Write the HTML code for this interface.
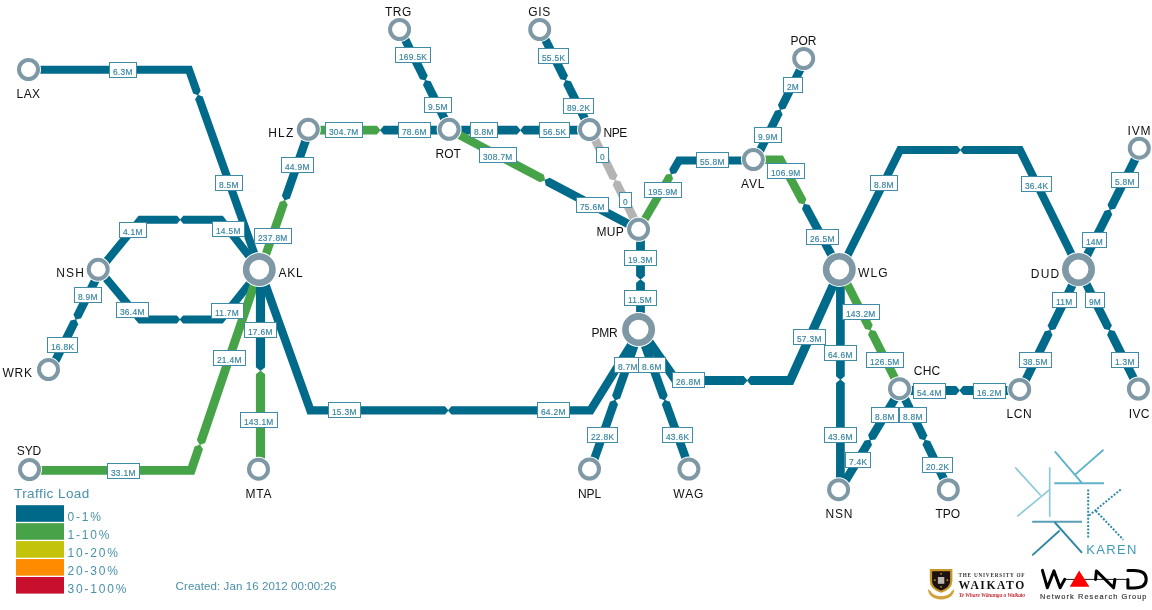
<!DOCTYPE html><html><head><meta charset="utf-8"><style>html,body{margin:0;padding:0;background:#fff;}svg{display:block}.bl{font-family:"Liberation Sans",sans-serif;font-size:8.4px;fill:#35849f;stroke:#35849f;stroke-width:0.15px;letter-spacing:0.3px}.nl{font-family:"Liberation Sans",sans-serif;font-size:12px;fill:#111;letter-spacing:1.2px}</style></head><body>
<svg width="1152" height="610" viewBox="0 0 1152 610" style="will-change:transform">
<rect width="1152" height="610" fill="#fff"/>
<polygon fill="#006a8a" points="29.50,73.80 186.18,73.80 193.15,93.41 198.04,95.24 200.69,90.73 191.82,65.80 29.50,65.80"/>
<polygon fill="#006a8a" points="264.07,269.06 202.73,96.50 197.84,94.67 195.20,99.18 256.53,271.74"/>
<polygon fill="#47a348" points="308.30,134.60 376.91,134.60 380.61,130.20 376.91,125.80 308.30,125.80"/>
<polygon fill="#006a8a" points="449.10,125.80 383.70,125.80 380.01,130.20 383.70,134.60 449.10,134.60"/>
<polygon fill="#006a8a" points="305.29,128.70 281.87,195.76 284.70,200.53 289.89,198.56 313.31,131.50"/>
<polygon fill="#47a348" points="264.31,271.80 287.73,204.74 284.90,199.97 279.71,201.94 256.29,269.00"/>
<polygon fill="#006a8a" points="396.79,32.19 420.09,79.16 425.48,80.47 427.70,75.38 404.41,28.41"/>
<polygon fill="#006a8a" points="453.91,128.21 430.61,81.24 425.22,79.93 423.00,85.02 446.29,131.99"/>
<polygon fill="#006a8a" points="536.90,32.19 560.34,79.27 565.73,80.57 567.95,75.48 544.50,28.41"/>
<polygon fill="#006a8a" points="594.30,128.41 570.86,81.33 565.47,80.03 563.25,85.12 586.70,132.19"/>
<polygon fill="#006a8a" points="449.10,134.60 517.00,134.60 520.70,130.20 517.00,125.80 449.10,125.80"/>
<polygon fill="#006a8a" points="589.50,125.80 523.79,125.80 520.10,130.20 523.79,134.60 589.50,134.60"/>
<polygon fill="#47a348" points="448.12,133.86 539.97,182.33 545.12,180.24 543.94,174.82 452.08,126.34"/>
<polygon fill="#006a8a" points="641.58,226.34 549.73,177.87 544.58,179.96 545.76,185.38 637.62,233.86"/>
<polygon fill="#b4b4b4" points="586.69,132.18 609.79,179.14 615.18,180.47 617.42,175.39 594.31,128.42"/>
<polygon fill="#b4b4b4" points="643.41,228.22 620.31,181.26 614.92,179.93 612.68,185.01 635.79,231.98"/>
<polygon fill="#47a348" points="642.46,231.31 673.09,178.63 671.32,173.72 666.17,174.61 635.54,227.29"/>
<polygon fill="#006a8a" points="753.40,156.50 676.70,156.50 669.25,169.32 671.01,174.23 676.16,173.34 681.30,164.50 753.40,164.50"/>
<polygon fill="#006a8a" points="801.58,57.46 777.95,105.10 780.12,110.07 785.38,108.79 809.02,61.14"/>
<polygon fill="#006a8a" points="758.92,162.14 782.55,114.50 780.38,109.53 775.12,110.81 751.48,158.46"/>
<polygon fill="#47a348" points="753.40,164.05 777.86,164.05 798.89,203.22 804.32,204.36 806.38,199.20 782.94,155.55 753.40,155.55"/>
<polygon fill="#006a8a" points="843.04,267.49 809.47,204.96 804.04,203.83 801.98,208.98 835.56,271.51"/>
<polygon fill="#006a8a" points="636.10,229.30 636.10,276.05 640.50,279.75 644.90,276.05 644.90,229.30"/>
<polygon fill="#006a8a" points="644.90,329.60 644.90,282.85 640.50,279.15 636.10,282.85 636.10,329.60"/>
<polygon fill="#006a8a" points="102.29,272.64 142.39,223.80 177.14,223.80 180.50,219.80 177.14,215.80 138.61,215.80 96.11,267.56"/>
<polygon fill="#006a8a" points="263.45,267.94 222.75,215.80 183.26,215.80 179.90,219.80 183.26,223.80 218.85,223.80 257.15,272.86"/>
<polygon fill="#006a8a" points="96.13,272.67 138.63,323.50 176.90,323.50 180.26,319.50 176.90,315.50 142.37,315.50 102.27,267.53"/>
<polygon fill="#006a8a" points="257.18,267.89 218.88,315.50 183.02,315.50 179.66,319.50 183.02,323.50 222.72,323.50 263.42,272.91"/>
<polygon fill="#006a8a" points="96.89,267.41 73.50,314.58 75.72,319.67 81.11,318.36 104.51,271.19"/>
<polygon fill="#006a8a" points="54.81,371.39 78.20,324.22 75.98,319.13 70.59,320.44 47.19,367.61"/>
<polygon fill="#47a348" points="255.13,268.19 196.83,440.10 199.81,445.01 205.16,442.92 263.47,271.01"/>
<polygon fill="#47a348" points="29.50,474.80 194.35,474.80 202.98,449.36 200.00,444.44 194.65,446.53 188.05,466.00 29.50,466.00"/>
<polygon fill="#006a8a" points="255.90,269.60 255.90,367.19 260.50,371.05 265.10,367.19 265.10,269.60"/>
<polygon fill="#47a348" points="265.10,469.50 265.10,374.31 260.50,370.45 255.90,374.31 255.90,469.50"/>
<polygon fill="#006a8a" points="256.05,271.02 307.44,414.60 444.98,414.60 448.51,410.40 444.98,406.20 313.36,406.20 263.95,268.18"/>
<polygon fill="#006a8a" points="636.93,327.39 588.16,406.20 451.44,406.20 447.91,410.40 451.44,414.60 592.84,414.60 644.07,331.81"/>
<polygon fill="#006a8a" points="635.59,328.99 612.13,395.60 614.95,400.38 620.14,398.43 643.61,331.81"/>
<polygon fill="#006a8a" points="594.51,471.21 617.97,404.60 615.15,399.82 609.96,401.77 586.49,468.39"/>
<polygon fill="#006a8a" points="635.60,331.84 659.64,398.47 664.85,400.38 667.64,395.58 643.60,328.96"/>
<polygon fill="#006a8a" points="693.90,468.36 669.86,401.73 664.65,399.82 661.86,404.62 685.90,471.24"/>
<polygon fill="#006a8a" points="636.81,332.17 673.65,385.00 743.69,385.00 747.47,380.50 743.69,376.00 678.35,376.00 644.19,327.03"/>
<polygon fill="#006a8a" points="836.20,267.65 787.29,376.00 750.65,376.00 746.87,380.50 750.65,385.00 793.11,385.00 844.40,271.35"/>
<polygon fill="#006a8a" points="836.05,269.50 836.05,376.25 840.40,379.90 844.75,376.25 844.75,269.50"/>
<polygon fill="#006a8a" points="844.75,489.70 844.75,382.95 840.40,379.30 836.05,382.95 836.05,489.70"/>
<polygon fill="#47a348" points="836.51,272.22 865.13,328.90 870.54,330.17 872.72,325.07 844.09,268.38"/>
<polygon fill="#47a348" points="904.29,387.58 875.67,330.90 870.26,329.63 868.08,334.73 896.71,391.42"/>
<polygon fill="#006a8a" points="844.08,271.29 902.57,154.00 957.33,154.00 960.69,150.00 957.33,146.00 897.63,146.00 836.92,267.71"/>
<polygon fill="#006a8a" points="1083.09,268.53 1022.48,146.00 963.45,146.00 960.09,150.00 963.45,154.00 1017.52,154.00 1075.91,272.07"/>
<polygon fill="#006a8a" points="1083.30,272.20 1112.23,214.48 1110.03,209.38 1104.64,210.67 1075.70,268.40"/>
<polygon fill="#006a8a" points="1136.50,147.10 1107.57,204.82 1109.77,209.92 1115.16,208.63 1144.10,150.90"/>
<polygon fill="#006a8a" points="1075.68,268.43 1047.72,325.44 1049.97,330.52 1055.36,329.19 1083.32,272.17"/>
<polygon fill="#006a8a" points="1024.52,392.07 1052.48,335.06 1050.23,329.98 1044.84,331.31 1016.88,388.33"/>
<polygon fill="#006a8a" points="1075.70,272.20 1104.19,329.03 1109.58,330.32 1111.78,325.22 1083.30,268.40"/>
<polygon fill="#006a8a" points="1143.20,387.90 1114.71,331.07 1109.32,329.78 1107.12,334.88 1135.60,391.70"/>
<polygon fill="#006a8a" points="899.50,394.90 956.12,394.90 959.90,390.40 956.12,385.90 899.50,385.90"/>
<polygon fill="#006a8a" points="1019.70,385.90 963.08,385.90 959.30,390.40 963.08,394.90 1019.70,394.90"/>
<polygon fill="#006a8a" points="896.86,387.31 868.10,435.01 869.90,440.26 875.38,439.39 904.14,391.69"/>
<polygon fill="#006a8a" points="843.24,492.69 872.00,444.99 870.20,439.74 864.72,440.61 835.96,488.31"/>
<polygon fill="#006a8a" points="896.67,391.35 919.65,438.90 925.03,440.27 927.30,435.21 904.33,387.65"/>
<polygon fill="#006a8a" points="953.13,488.65 930.15,441.10 924.77,439.73 922.50,444.79 945.47,492.35"/>
<rect x="109.5" y="62.5" width="27" height="15" fill="#fff" stroke="#3f8ca9" stroke-width="1"/><text x="112.90" y="75.00" class="bl">6.3M</text>
<rect x="215.5" y="175.5" width="27" height="15" fill="#fff" stroke="#3f8ca9" stroke-width="1"/><text x="218.90" y="188.00" class="bl">8.5M</text>
<rect x="325.5" y="122.5" width="37" height="15" fill="#fff" stroke="#3f8ca9" stroke-width="1"/><text x="328.90" y="135.00" class="bl">304.7M</text>
<rect x="398.5" y="122.5" width="32" height="15" fill="#fff" stroke="#3f8ca9" stroke-width="1"/><text x="401.90" y="135.00" class="bl">78.6M</text>
<rect x="281.5" y="157.5" width="32" height="15" fill="#fff" stroke="#3f8ca9" stroke-width="1"/><text x="284.90" y="170.00" class="bl">44.9M</text>
<rect x="254.5" y="228.5" width="37" height="15" fill="#fff" stroke="#3f8ca9" stroke-width="1"/><text x="257.90" y="241.00" class="bl">237.8M</text>
<rect x="395.5" y="47.5" width="35" height="15" fill="#fff" stroke="#3f8ca9" stroke-width="1"/><text x="398.90" y="60.00" class="bl">169.5K</text>
<rect x="424.5" y="97.5" width="27" height="15" fill="#fff" stroke="#3f8ca9" stroke-width="1"/><text x="427.90" y="110.00" class="bl">9.5M</text>
<rect x="538.5" y="48.5" width="30" height="15" fill="#fff" stroke="#3f8ca9" stroke-width="1"/><text x="541.90" y="61.00" class="bl">55.5K</text>
<rect x="563.5" y="98.5" width="30" height="15" fill="#fff" stroke="#3f8ca9" stroke-width="1"/><text x="566.90" y="111.00" class="bl">89.2K</text>
<rect x="470.5" y="122.5" width="27" height="15" fill="#fff" stroke="#3f8ca9" stroke-width="1"/><text x="473.90" y="135.00" class="bl">8.8M</text>
<rect x="539.5" y="122.5" width="30" height="15" fill="#fff" stroke="#3f8ca9" stroke-width="1"/><text x="542.90" y="135.00" class="bl">56.5K</text>
<rect x="479.5" y="147.5" width="37" height="15" fill="#fff" stroke="#3f8ca9" stroke-width="1"/><text x="482.90" y="160.00" class="bl">308.7M</text>
<rect x="576.5" y="197.5" width="32" height="15" fill="#fff" stroke="#3f8ca9" stroke-width="1"/><text x="579.90" y="210.00" class="bl">75.6M</text>
<rect x="596.5" y="147.5" width="12" height="15" fill="#fff" stroke="#3f8ca9" stroke-width="1"/><text x="599.90" y="160.00" class="bl">0</text>
<rect x="619.5" y="192.5" width="12" height="15" fill="#fff" stroke="#3f8ca9" stroke-width="1"/><text x="622.90" y="205.00" class="bl">0</text>
<rect x="644.5" y="182.5" width="37" height="15" fill="#fff" stroke="#3f8ca9" stroke-width="1"/><text x="647.90" y="195.00" class="bl">195.9M</text>
<rect x="696.5" y="152.5" width="32" height="15" fill="#fff" stroke="#3f8ca9" stroke-width="1"/><text x="699.90" y="165.00" class="bl">55.8M</text>
<rect x="783.5" y="77.5" width="19" height="15" fill="#fff" stroke="#3f8ca9" stroke-width="1"/><text x="786.90" y="90.00" class="bl">2M</text>
<rect x="754.5" y="127.5" width="27" height="15" fill="#fff" stroke="#3f8ca9" stroke-width="1"/><text x="757.90" y="140.00" class="bl">9.9M</text>
<rect x="767.5" y="163.5" width="37" height="15" fill="#fff" stroke="#3f8ca9" stroke-width="1"/><text x="770.90" y="176.00" class="bl">106.9M</text>
<rect x="806.5" y="229.5" width="32" height="15" fill="#fff" stroke="#3f8ca9" stroke-width="1"/><text x="809.90" y="242.00" class="bl">26.5M</text>
<rect x="624.5" y="250.5" width="32" height="15" fill="#fff" stroke="#3f8ca9" stroke-width="1"/><text x="627.90" y="263.00" class="bl">19.3M</text>
<rect x="624.5" y="290.5" width="32" height="15" fill="#fff" stroke="#3f8ca9" stroke-width="1"/><text x="627.90" y="303.00" class="bl">11.5M</text>
<rect x="119.5" y="222.5" width="27" height="15" fill="#fff" stroke="#3f8ca9" stroke-width="1"/><text x="122.90" y="235.00" class="bl">4.1M</text>
<rect x="212.5" y="221.5" width="32" height="15" fill="#fff" stroke="#3f8ca9" stroke-width="1"/><text x="215.90" y="234.00" class="bl">14.5M</text>
<rect x="116.5" y="302.5" width="32" height="15" fill="#fff" stroke="#3f8ca9" stroke-width="1"/><text x="119.90" y="315.00" class="bl">36.4M</text>
<rect x="211.5" y="303.5" width="32" height="15" fill="#fff" stroke="#3f8ca9" stroke-width="1"/><text x="214.90" y="316.00" class="bl">11.7M</text>
<rect x="74.5" y="287.5" width="27" height="15" fill="#fff" stroke="#3f8ca9" stroke-width="1"/><text x="77.90" y="300.00" class="bl">8.9M</text>
<rect x="47.5" y="337.5" width="30" height="15" fill="#fff" stroke="#3f8ca9" stroke-width="1"/><text x="50.90" y="350.00" class="bl">16.8K</text>
<rect x="213.5" y="350.5" width="32" height="15" fill="#fff" stroke="#3f8ca9" stroke-width="1"/><text x="216.90" y="363.00" class="bl">21.4M</text>
<rect x="107.5" y="463.5" width="32" height="15" fill="#fff" stroke="#3f8ca9" stroke-width="1"/><text x="110.90" y="476.00" class="bl">33.1M</text>
<rect x="244.5" y="322.5" width="32" height="15" fill="#fff" stroke="#3f8ca9" stroke-width="1"/><text x="247.90" y="335.00" class="bl">17.6M</text>
<rect x="240.5" y="412.5" width="37" height="15" fill="#fff" stroke="#3f8ca9" stroke-width="1"/><text x="243.90" y="425.00" class="bl">143.1M</text>
<rect x="328.5" y="402.5" width="32" height="15" fill="#fff" stroke="#3f8ca9" stroke-width="1"/><text x="331.90" y="415.00" class="bl">15.3M</text>
<rect x="537.5" y="402.5" width="32" height="15" fill="#fff" stroke="#3f8ca9" stroke-width="1"/><text x="540.90" y="415.00" class="bl">64.2M</text>
<rect x="614.5" y="357.5" width="27" height="15" fill="#fff" stroke="#3f8ca9" stroke-width="1"/><text x="617.90" y="370.00" class="bl">8.7M</text>
<rect x="587.5" y="427.5" width="30" height="15" fill="#fff" stroke="#3f8ca9" stroke-width="1"/><text x="590.90" y="440.00" class="bl">22.8K</text>
<rect x="638.5" y="357.5" width="27" height="15" fill="#fff" stroke="#3f8ca9" stroke-width="1"/><text x="641.90" y="370.00" class="bl">8.6M</text>
<rect x="662.5" y="427.5" width="30" height="15" fill="#fff" stroke="#3f8ca9" stroke-width="1"/><text x="665.90" y="440.00" class="bl">43.6K</text>
<rect x="672.5" y="372.5" width="32" height="15" fill="#fff" stroke="#3f8ca9" stroke-width="1"/><text x="675.90" y="385.00" class="bl">26.8M</text>
<rect x="793.5" y="329.5" width="32" height="15" fill="#fff" stroke="#3f8ca9" stroke-width="1"/><text x="796.90" y="342.00" class="bl">57.3M</text>
<rect x="824.5" y="345.5" width="32" height="15" fill="#fff" stroke="#3f8ca9" stroke-width="1"/><text x="827.90" y="358.00" class="bl">64.6M</text>
<rect x="824.5" y="427.5" width="32" height="15" fill="#fff" stroke="#3f8ca9" stroke-width="1"/><text x="827.90" y="440.00" class="bl">43.6M</text>
<rect x="842.5" y="304.5" width="37" height="15" fill="#fff" stroke="#3f8ca9" stroke-width="1"/><text x="845.90" y="317.00" class="bl">143.2M</text>
<rect x="866.5" y="352.5" width="37" height="15" fill="#fff" stroke="#3f8ca9" stroke-width="1"/><text x="869.90" y="365.00" class="bl">126.5M</text>
<rect x="870.5" y="175.5" width="27" height="15" fill="#fff" stroke="#3f8ca9" stroke-width="1"/><text x="873.90" y="188.00" class="bl">8.8M</text>
<rect x="1021.5" y="176.5" width="30" height="15" fill="#fff" stroke="#3f8ca9" stroke-width="1"/><text x="1024.90" y="189.00" class="bl">36.4K</text>
<rect x="1082.5" y="232.5" width="24" height="15" fill="#fff" stroke="#3f8ca9" stroke-width="1"/><text x="1085.90" y="245.00" class="bl">14M</text>
<rect x="1111.5" y="172.5" width="27" height="15" fill="#fff" stroke="#3f8ca9" stroke-width="1"/><text x="1114.90" y="185.00" class="bl">5.8M</text>
<rect x="1052.5" y="292.5" width="24" height="15" fill="#fff" stroke="#3f8ca9" stroke-width="1"/><text x="1055.90" y="305.00" class="bl">11M</text>
<rect x="1019.5" y="352.5" width="32" height="15" fill="#fff" stroke="#3f8ca9" stroke-width="1"/><text x="1022.90" y="365.00" class="bl">38.5M</text>
<rect x="1085.5" y="292.5" width="19" height="15" fill="#fff" stroke="#3f8ca9" stroke-width="1"/><text x="1088.90" y="305.00" class="bl">9M</text>
<rect x="1111.5" y="352.5" width="27" height="15" fill="#fff" stroke="#3f8ca9" stroke-width="1"/><text x="1114.90" y="365.00" class="bl">1.3M</text>
<rect x="913.5" y="383.5" width="32" height="15" fill="#fff" stroke="#3f8ca9" stroke-width="1"/><text x="916.90" y="396.00" class="bl">54.4M</text>
<rect x="973.5" y="383.5" width="32" height="15" fill="#fff" stroke="#3f8ca9" stroke-width="1"/><text x="976.90" y="396.00" class="bl">16.2M</text>
<rect x="871.5" y="407.5" width="27" height="15" fill="#fff" stroke="#3f8ca9" stroke-width="1"/><text x="874.90" y="420.00" class="bl">8.8M</text>
<rect x="845.5" y="452.5" width="25" height="15" fill="#fff" stroke="#3f8ca9" stroke-width="1"/><text x="848.90" y="465.00" class="bl">7.4K</text>
<rect x="899.5" y="407.5" width="27" height="15" fill="#fff" stroke="#3f8ca9" stroke-width="1"/><text x="902.90" y="420.00" class="bl">8.8M</text>
<rect x="922.5" y="457.5" width="30" height="15" fill="#fff" stroke="#3f8ca9" stroke-width="1"/><text x="925.90" y="470.00" class="bl">20.2K</text>
<circle cx="28.50" cy="69.50" r="9.50" fill="#fff" stroke="#fff" stroke-width="6.00"/>
<circle cx="28.50" cy="69.50" r="9.50" fill="#fff" stroke="#7e99a5" stroke-width="4.00"/>
<circle cx="399.60" cy="29.50" r="9.50" fill="#fff" stroke="#fff" stroke-width="6.00"/>
<circle cx="399.60" cy="29.50" r="9.50" fill="#fff" stroke="#7e99a5" stroke-width="4.00"/>
<circle cx="539.70" cy="29.50" r="9.50" fill="#fff" stroke="#fff" stroke-width="6.00"/>
<circle cx="539.70" cy="29.50" r="9.50" fill="#fff" stroke="#7e99a5" stroke-width="4.00"/>
<circle cx="803.70" cy="58.50" r="9.50" fill="#fff" stroke="#fff" stroke-width="6.00"/>
<circle cx="803.70" cy="58.50" r="9.50" fill="#fff" stroke="#7e99a5" stroke-width="4.00"/>
<circle cx="308.30" cy="129.30" r="9.50" fill="#fff" stroke="#fff" stroke-width="6.00"/>
<circle cx="308.30" cy="129.30" r="9.50" fill="#fff" stroke="#7e99a5" stroke-width="4.00"/>
<circle cx="449.10" cy="129.30" r="9.50" fill="#fff" stroke="#fff" stroke-width="6.00"/>
<circle cx="449.10" cy="129.30" r="9.50" fill="#fff" stroke="#7e99a5" stroke-width="4.00"/>
<circle cx="589.50" cy="129.50" r="9.50" fill="#fff" stroke="#fff" stroke-width="6.00"/>
<circle cx="589.50" cy="129.50" r="9.50" fill="#fff" stroke="#7e99a5" stroke-width="4.00"/>
<circle cx="753.40" cy="159.50" r="9.50" fill="#fff" stroke="#fff" stroke-width="6.00"/>
<circle cx="753.40" cy="159.50" r="9.50" fill="#fff" stroke="#7e99a5" stroke-width="4.00"/>
<circle cx="1139.30" cy="148.20" r="9.50" fill="#fff" stroke="#fff" stroke-width="6.00"/>
<circle cx="1139.30" cy="148.20" r="9.50" fill="#fff" stroke="#7e99a5" stroke-width="4.00"/>
<circle cx="98.20" cy="269.30" r="9.50" fill="#fff" stroke="#fff" stroke-width="6.00"/>
<circle cx="98.20" cy="269.30" r="9.50" fill="#fff" stroke="#7e99a5" stroke-width="4.00"/>
<circle cx="259.30" cy="269.60" r="13.20" fill="#fff" stroke="#fff" stroke-width="8.60"/>
<circle cx="259.30" cy="269.60" r="13.20" fill="#fff" stroke="#7e99a5" stroke-width="6.60"/>
<circle cx="638.60" cy="229.30" r="9.50" fill="#fff" stroke="#fff" stroke-width="6.00"/>
<circle cx="638.60" cy="229.30" r="9.50" fill="#fff" stroke="#7e99a5" stroke-width="4.00"/>
<circle cx="839.30" cy="269.50" r="13.20" fill="#fff" stroke="#fff" stroke-width="8.60"/>
<circle cx="839.30" cy="269.50" r="13.20" fill="#fff" stroke="#7e99a5" stroke-width="6.60"/>
<circle cx="1078.50" cy="269.50" r="13.20" fill="#fff" stroke="#fff" stroke-width="8.60"/>
<circle cx="1078.50" cy="269.50" r="13.20" fill="#fff" stroke="#7e99a5" stroke-width="6.60"/>
<circle cx="48.50" cy="369.50" r="9.50" fill="#fff" stroke="#fff" stroke-width="6.00"/>
<circle cx="48.50" cy="369.50" r="9.50" fill="#fff" stroke="#7e99a5" stroke-width="4.00"/>
<circle cx="638.60" cy="329.60" r="13.20" fill="#fff" stroke="#fff" stroke-width="8.60"/>
<circle cx="638.60" cy="329.60" r="13.20" fill="#fff" stroke="#7e99a5" stroke-width="6.60"/>
<circle cx="899.50" cy="388.70" r="9.50" fill="#fff" stroke="#fff" stroke-width="6.00"/>
<circle cx="899.50" cy="388.70" r="9.50" fill="#fff" stroke="#7e99a5" stroke-width="4.00"/>
<circle cx="1019.70" cy="389.40" r="9.50" fill="#fff" stroke="#fff" stroke-width="6.00"/>
<circle cx="1019.70" cy="389.40" r="9.50" fill="#fff" stroke="#7e99a5" stroke-width="4.00"/>
<circle cx="1138.40" cy="389.00" r="9.50" fill="#fff" stroke="#fff" stroke-width="6.00"/>
<circle cx="1138.40" cy="389.00" r="9.50" fill="#fff" stroke="#7e99a5" stroke-width="4.00"/>
<circle cx="29.50" cy="469.50" r="9.50" fill="#fff" stroke="#fff" stroke-width="6.00"/>
<circle cx="29.50" cy="469.50" r="9.50" fill="#fff" stroke="#7e99a5" stroke-width="4.00"/>
<circle cx="258.50" cy="469.20" r="9.50" fill="#fff" stroke="#fff" stroke-width="6.00"/>
<circle cx="258.50" cy="469.20" r="9.50" fill="#fff" stroke="#7e99a5" stroke-width="4.00"/>
<circle cx="589.50" cy="469.00" r="9.50" fill="#fff" stroke="#fff" stroke-width="6.00"/>
<circle cx="589.50" cy="469.00" r="9.50" fill="#fff" stroke="#7e99a5" stroke-width="4.00"/>
<circle cx="688.90" cy="469.00" r="9.50" fill="#fff" stroke="#fff" stroke-width="6.00"/>
<circle cx="688.90" cy="469.00" r="9.50" fill="#fff" stroke="#7e99a5" stroke-width="4.00"/>
<circle cx="838.60" cy="489.70" r="9.50" fill="#fff" stroke="#fff" stroke-width="6.00"/>
<circle cx="838.60" cy="489.70" r="9.50" fill="#fff" stroke="#7e99a5" stroke-width="4.00"/>
<circle cx="948.30" cy="489.70" r="9.50" fill="#fff" stroke="#fff" stroke-width="6.00"/>
<circle cx="948.30" cy="489.70" r="9.50" fill="#fff" stroke="#7e99a5" stroke-width="4.00"/>
<text class="nl" x="16.60" y="98.00" style="letter-spacing:0.40px">LAX</text>
<text class="nl" x="385.10" y="15.80" style="letter-spacing:0.45px">TRG</text>
<text class="nl" x="528.30" y="15.80" style="letter-spacing:0.60px">GIS</text>
<text class="nl" x="790.50" y="45.30" style="letter-spacing:-0.10px">POR</text>
<text class="nl" x="268.20" y="136.80" style="letter-spacing:1.25px">HLZ</text>
<text class="nl" x="435.60" y="157.70" style="letter-spacing:-0.05px">ROT</text>
<text class="nl" x="603.50" y="136.80" style="letter-spacing:-0.45px">NPE</text>
<text class="nl" x="741.10" y="187.80" style="letter-spacing:0.75px">AVL</text>
<text class="nl" x="1127.50" y="134.90" style="letter-spacing:0.85px">IVM</text>
<text class="nl" x="56.20" y="277.00" style="letter-spacing:1.15px">NSH</text>
<text class="nl" x="278.50" y="277.00" style="letter-spacing:0.75px">AKL</text>
<text class="nl" x="596.50" y="236.45" style="letter-spacing:0.28px">MUP</text>
<text class="nl" x="858.00" y="276.70" style="letter-spacing:1.10px">WLG</text>
<text class="nl" x="1030.80" y="277.60" style="letter-spacing:1.20px">DUD</text>
<text class="nl" x="2.50" y="377.00" style="letter-spacing:0.75px">WRK</text>
<text class="nl" x="591.40" y="336.80" style="letter-spacing:-0.20px">PMR</text>
<text class="nl" x="913.70" y="375.10" style="letter-spacing:0.30px">CHC</text>
<text class="nl" x="1006.50" y="418.20" style="letter-spacing:0.55px">LCN</text>
<text class="nl" x="1128.70" y="418.20" style="letter-spacing:0.40px">IVC</text>
<text class="nl" x="16.70" y="455.20" style="letter-spacing:-0.05px">SYD</text>
<text class="nl" x="245.40" y="498.00" style="letter-spacing:0.80px">MTA</text>
<text class="nl" x="578.00" y="498.00" style="letter-spacing:-0.10px">NPL</text>
<text class="nl" x="673.30" y="498.00" style="letter-spacing:0.95px">WAG</text>
<text class="nl" x="825.60" y="518.10" style="letter-spacing:0.80px">NSN</text>
<text class="nl" x="935.50" y="518.10" style="letter-spacing:-0.05px">TPO</text>
<text x="14" y="498.2" style="font-family:'Liberation Sans',sans-serif;font-size:13.5px;fill:#4a90ab;letter-spacing:0.43px">Traffic Load</text>
<rect x="16" y="505.20" width="48" height="16.6" fill="#00698a"/>
<text x="67.5" y="520.80" style="font-family:'Liberation Sans',sans-serif;font-size:12px;fill:#4a90ab;letter-spacing:1.8px">0-1%</text>
<rect x="16" y="523.15" width="48" height="16.6" fill="#48a348"/>
<text x="67.5" y="538.75" style="font-family:'Liberation Sans',sans-serif;font-size:12px;fill:#4a90ab;letter-spacing:1.8px">1-10%</text>
<rect x="16" y="541.10" width="48" height="16.6" fill="#c4c30c"/>
<text x="67.5" y="556.70" style="font-family:'Liberation Sans',sans-serif;font-size:12px;fill:#4a90ab;letter-spacing:1.8px">10-20%</text>
<rect x="16" y="559.05" width="48" height="16.6" fill="#ff8c00"/>
<text x="67.5" y="574.65" style="font-family:'Liberation Sans',sans-serif;font-size:12px;fill:#4a90ab;letter-spacing:1.8px">20-30%</text>
<rect x="16" y="577.00" width="48" height="16.6" fill="#c8102e"/>
<text x="67.5" y="592.60" style="font-family:'Liberation Sans',sans-serif;font-size:12px;fill:#4a90ab;letter-spacing:1.8px">30-100%</text>
<text x="175.6" y="590" style="font-family:'Liberation Sans',sans-serif;font-size:11.5px;fill:#4a90ab;letter-spacing:0.08px">Created: Jan 16 2012 00:00:26</text>
<g fill="none" stroke-linecap="butt">
<g stroke="#8dc9da" stroke-width="1.7">
<line x1="1049.7" y1="467.4" x2="1049.7" y2="516.8"/>
<line x1="1017.2" y1="516.4" x2="1049.7" y2="489.6"/>
<line x1="1015.2" y1="467.5" x2="1040.8" y2="495.5"/>
</g>
<g stroke="#5fb2ca" stroke-width="1.9">
<line x1="1054.3" y1="483.3" x2="1104" y2="483.3"/>
<line x1="1054.8" y1="451.3" x2="1081.8" y2="482.8"/>
<line x1="1103.5" y1="449.8" x2="1075.4" y2="474.4"/>
</g>
<g stroke-width="1.9">
<line x1="1032.2" y1="521.7" x2="1082" y2="521.7" stroke="#5a9fb6"/>
<line x1="1054.5" y1="522" x2="1082" y2="552.8" stroke="#2e86a5"/>
<line x1="1032.2" y1="555.4" x2="1059.7" y2="530.5" stroke="#2e86a5"/>
</g>
<g stroke="#2e8aaa" stroke-width="2" stroke-dasharray="2 1.55">
<line x1="1088.2" y1="489.4" x2="1088.2" y2="539"/>
<line x1="1120.7" y1="489.4" x2="1089.2" y2="515.4"/>
<line x1="1095.8" y1="510.8" x2="1123.3" y2="539.7"/>
</g>
</g>
<text x="1086.3" y="553.8" style="font-family:'Liberation Sans',sans-serif;font-size:13px;fill:#3d9ab8;letter-spacing:1.3px">KAREN</text>
<g>
<path d="M929.8 569 H952.4 V581 Q952.4 589.2 941.1 592.8 Q929.8 589.2 929.8 581 Z" fill="#c8982a"/>
<path d="M932.1 571.3 H950.1 V581 Q950.1 587.6 941.1 590.4 Q932.1 587.6 932.1 581 Z" fill="#1c1212"/>
<rect x="937.9" y="577" width="6.4" height="6.8" fill="#bdb9b2"/>
<circle cx="941.1" cy="573.8" r="0.9" fill="#c8982a"/>
<circle cx="934.8" cy="580.2" r="0.9" fill="#c8982a"/>
<circle cx="947.4" cy="580.2" r="0.9" fill="#c8982a"/>
<circle cx="941.1" cy="586.8" r="0.9" fill="#c8982a"/>
<path d="M927.8 589 Q928.5 598.6 941.1 599.6 Q953.7 598.6 954.4 589 L951.6 591.2 Q949.5 595.6 941.1 596.2 Q932.7 595.6 930.6 591.2 Z" fill="#d2a33c"/>
</g>
<text x="958.5" y="576.6" style="font-family:'Liberation Serif',serif;font-size:5.2px;font-weight:bold;fill:#333;letter-spacing:0.8px">THE UNIVERSITY OF</text>
<text x="958.6" y="588.9" style="font-family:'Liberation Serif',serif;font-size:11.6px;font-weight:bold;fill:#111;letter-spacing:1.55px">WAIKATO</text>
<text x="958.8" y="597.3" style="font-family:'Liberation Serif',serif;font-size:5.6px;font-style:italic;font-weight:bold;fill:#c4303a;letter-spacing:-0.16px">Te Whare Wānanga o Waikato</text>
<g fill="none" stroke="#000" stroke-linejoin="round" stroke-linecap="round">
<line x1="1064.7" y1="579.4" x2="1128" y2="579.4" stroke-width="0.9"/>
<polyline points="1042.4,570.4 1047.4,587.8 1054,570.9 1060.1,587.8 1064.7,579.4" stroke-width="3"/>
<polyline points="1095.6,579.4 1096.4,570.9 1113.6,587.8 1114.9,579.4" stroke-width="3"/>
<path d="M1127.9 579.4 V587.9 H1134 Q1146.2 587.9 1146.2 579.2 Q1146.2 570.4 1134 570.4 H1127.9" stroke-width="3"/>
</g>
<polygon points="1079.1,570.5 1069.8,586.7 1089.4,586.7" fill="#f00"/>
<text x="1040" y="598.6" style="font-family:'Liberation Sans',sans-serif;font-size:7.4px;fill:#3a3a3a;stroke:#3a3a3a;stroke-width:0.2px;letter-spacing:1.1px">Network Research Group</text>

</svg></body></html>
